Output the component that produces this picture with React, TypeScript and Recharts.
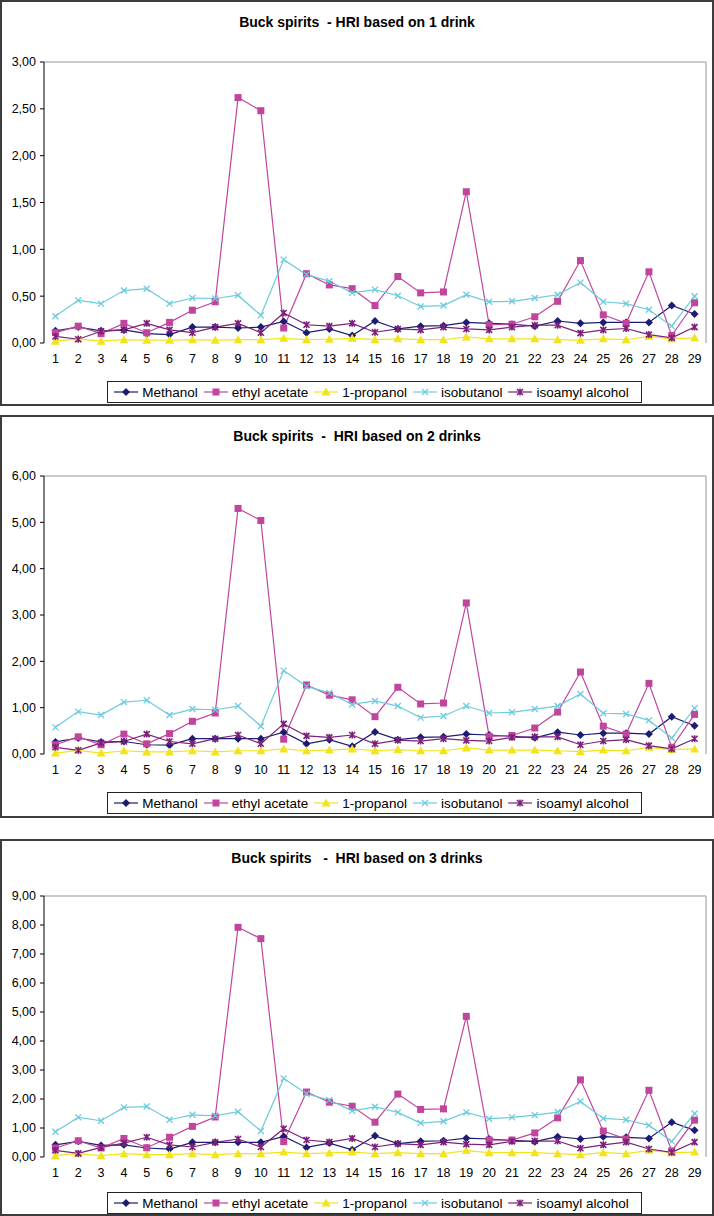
import React from 'react';
import { LineChart, Line, XAxis, YAxis, ReferenceLine } from 'recharts';

const categories = [1, 2, 3, 4, 5, 6, 7, 8, 9, 10, 11, 12, 13, 14, 15, 16, 17, 18, 19, 20, 21, 22, 23, 24, 25, 26, 27, 28, 29];

// 1 drink
const methanol1 = [0.13, 0.17, 0.13, 0.14, 0.10, 0.09, 0.17, 0.17, 0.16, 0.17, 0.23, 0.11, 0.15, 0.08, 0.235, 0.15, 0.18, 0.185, 0.22, 0.21, 0.20, 0.18, 0.235, 0.21, 0.22, 0.22, 0.22, 0.40, 0.31];
const ethylAcetate1 = [0.11, 0.18, 0.10, 0.21, 0.11, 0.22, 0.35, 0.44, 2.62, 2.48, 0.16, 0.74, 0.62, 0.58, 0.40, 0.71, 0.535, 0.545, 1.615, 0.195, 0.20, 0.28, 0.445, 0.88, 0.30, 0.21, 0.76, 0.08, 0.43];
const propanol1 = [0.02, 0.045, 0.02, 0.035, 0.03, 0.03, 0.035, 0.03, 0.035, 0.035, 0.05, 0.035, 0.04, 0.05, 0.035, 0.045, 0.035, 0.035, 0.065, 0.045, 0.045, 0.045, 0.035, 0.03, 0.045, 0.035, 0.07, 0.045, 0.055];
const isobutanol1 = [0.285, 0.455, 0.42, 0.56, 0.58, 0.42, 0.48, 0.475, 0.51, 0.295, 0.89, 0.73, 0.66, 0.535, 0.57, 0.505, 0.39, 0.40, 0.515, 0.44, 0.445, 0.48, 0.515, 0.645, 0.44, 0.42, 0.355, 0.18, 0.50];
const isoamyl1 = [0.07, 0.04, 0.125, 0.14, 0.21, 0.14, 0.11, 0.17, 0.21, 0.11, 0.32, 0.195, 0.18, 0.21, 0.115, 0.15, 0.14, 0.17, 0.15, 0.14, 0.17, 0.19, 0.19, 0.105, 0.14, 0.155, 0.09, 0.055, 0.17];

// 2 drinks
const methanol2 = [0.26, 0.345, 0.26, 0.27, 0.20, 0.19, 0.33, 0.33, 0.33, 0.33, 0.47, 0.22, 0.31, 0.165, 0.475, 0.31, 0.36, 0.37, 0.43, 0.41, 0.38, 0.35, 0.47, 0.41, 0.45, 0.45, 0.43, 0.805, 0.61];
const ethylAcetate2 = [0.20, 0.37, 0.20, 0.43, 0.22, 0.44, 0.705, 0.885, 5.30, 5.04, 0.32, 1.49, 1.27, 1.17, 0.805, 1.44, 1.08, 1.10, 3.26, 0.38, 0.40, 0.56, 0.905, 1.77, 0.60, 0.43, 1.525, 0.145, 0.855];
const propanol2 = [0.02, 0.08, 0.02, 0.07, 0.045, 0.045, 0.07, 0.045, 0.07, 0.07, 0.11, 0.07, 0.085, 0.11, 0.07, 0.095, 0.07, 0.07, 0.13, 0.085, 0.085, 0.085, 0.07, 0.05, 0.085, 0.07, 0.145, 0.095, 0.11];
const isobutanol2 = [0.575, 0.915, 0.84, 1.12, 1.16, 0.84, 0.97, 0.955, 1.035, 0.60, 1.80, 1.46, 1.32, 1.07, 1.145, 1.035, 0.785, 0.82, 1.035, 0.885, 0.90, 0.97, 1.035, 1.295, 0.88, 0.865, 0.725, 0.345, 0.99];
const isoamyl2 = [0.145, 0.08, 0.24, 0.27, 0.43, 0.27, 0.22, 0.33, 0.41, 0.22, 0.65, 0.39, 0.36, 0.41, 0.22, 0.30, 0.28, 0.33, 0.295, 0.28, 0.36, 0.37, 0.37, 0.20, 0.28, 0.31, 0.18, 0.11, 0.33];

// 3 drinks
const methanol3 = [0.42, 0.54, 0.40, 0.42, 0.31, 0.275, 0.505, 0.505, 0.505, 0.505, 0.71, 0.33, 0.48, 0.25, 0.73, 0.46, 0.54, 0.56, 0.65, 0.62, 0.57, 0.53, 0.70, 0.62, 0.70, 0.68, 0.64, 1.20, 0.92];
const ethylAcetate3 = [0.31, 0.56, 0.31, 0.64, 0.32, 0.68, 1.055, 1.38, 7.92, 7.53, 0.53, 2.24, 1.89, 1.75, 1.20, 2.17, 1.64, 1.66, 4.85, 0.585, 0.585, 0.83, 1.35, 2.66, 0.895, 0.62, 2.30, 0.21, 1.27];
const propanol3 = [0.045, 0.115, 0.045, 0.115, 0.08, 0.08, 0.115, 0.08, 0.115, 0.115, 0.17, 0.115, 0.14, 0.17, 0.115, 0.15, 0.115, 0.115, 0.22, 0.15, 0.15, 0.15, 0.115, 0.08, 0.15, 0.115, 0.23, 0.15, 0.17];
const isobutanol3 = [0.87, 1.365, 1.25, 1.71, 1.74, 1.285, 1.455, 1.42, 1.56, 0.895, 2.71, 2.18, 1.96, 1.59, 1.73, 1.54, 1.17, 1.23, 1.54, 1.32, 1.365, 1.445, 1.55, 1.915, 1.33, 1.285, 1.09, 0.54, 1.50];
const isoamyl3 = [0.23, 0.125, 0.33, 0.48, 0.68, 0.42, 0.345, 0.505, 0.62, 0.345, 0.975, 0.585, 0.515, 0.64, 0.345, 0.46, 0.42, 0.515, 0.445, 0.42, 0.54, 0.55, 0.55, 0.30, 0.42, 0.515, 0.275, 0.16, 0.515];

const yTicks1 = [0, 0.5, 1, 1.5, 2, 2.5, 3];
const yTicks2 = [0, 1, 2, 3, 4, 5, 6];
const yTicks3 = [0, 1, 2, 3, 4, 5, 6, 7, 8, 9];

const FONT = '"Liberation Sans", Arial, sans-serif';

type Shape = 'diamond' | 'square' | 'triangle' | 'cross' | 'star';
const SERIES: { key: string; name: string; color: string; shape: Shape }[] = [
  { key: 'methanol', name: 'Methanol', color: '#1c1c72', shape: 'diamond' },
  { key: 'ethyl', name: 'ethyl acetate', color: '#c2459d', shape: 'square' },
  { key: 'propanol', name: '1-propanol', color: '#f2e41c', shape: 'triangle' },
  { key: 'isobutanol', name: 'isobutanol', color: '#6ccbdc', shape: 'cross' },
  { key: 'isoamyl', name: 'isoamyl alcohol', color: '#7c2079', shape: 'star' },
];

function marker(shape: Shape, color: string, cx: number, cy: number, key?: string | number) {
  switch (shape) {
    case 'diamond':
      return <path key={key} d={`M${cx},${cy - 4}L${cx + 4},${cy}L${cx},${cy + 4}L${cx - 4},${cy}Z`} fill={color} />;
    case 'square':
      return <rect key={key} x={cx - 3.5} y={cy - 3.5} width={7} height={7} fill={color} />;
    case 'triangle':
      return <path key={key} d={`M${cx},${cy - 4.5}L${cx + 4.5},${cy + 3.5}L${cx - 4.5},${cy + 3.5}Z`} fill={color} />;
    case 'cross':
      return (
        <path key={key} d={`M${cx - 3},${cy - 3}L${cx + 3},${cy + 3}M${cx - 3},${cy + 3}L${cx + 3},${cy - 3}`} stroke={color} strokeWidth={1.3} fill="none" />
      );
    case 'star':
    default:
      return (
        <path key={key} d={`M${cx - 3},${cy - 3}L${cx + 3},${cy + 3}M${cx - 3},${cy + 3}L${cx + 3},${cy - 3}M${cx},${cy - 3.5}L${cx},${cy + 3.5}`} stroke={color} strokeWidth={1.6} fill="none" />
      );
  }
}

const fmt = (v: number) => v.toFixed(2).replace('.', ',');
const halfTicks = [...categories.map((c) => c - 0.5), categories[categories.length - 1] + 0.5];
const xDomain: [number, number] = [categories[0] - 0.5, categories[categories.length - 1] + 0.5];

type PanelProps = {
  top: number;
  height: number;
  title: string;
  titleY: number;
  plotTop: number;
  below: number;
  legendTop: number;
  yTicks: number[];
  values: number[][];
};

function Legend({ top }: { top: number }) {
  return (
    <div
      style={{
        position: 'absolute',
        top,
        left: 107,
        width: 535,
        height: 22,
        boxSizing: 'border-box',
        border: '1px solid #222',
        background: '#fff',
        display: 'flex',
        alignItems: 'center',
        justifyContent: 'center',
        fontFamily: FONT,
        fontSize: 13.5,
        color: '#000',
      }}
    >
      {SERIES.map((s) => (
        <div key={s.key} style={{ display: 'flex', alignItems: 'center', marginRight: 6 }}>
          <svg width={24} height={10} style={{ marginRight: 4 }}>
            <line x1={0} y1={5} x2={24} y2={5} stroke={s.color} strokeWidth={1.2} />
            {marker(s.shape, s.color, 12, 5)}
          </svg>
          <span>{s.name}</span>
        </div>
      ))}
    </div>
  );
}

function Panel(p: PanelProps) {
  const data = categories.map((c, i) => {
    const row: Record<string, number> = { x: c };
    SERIES.forEach((s, j) => {
      row[s.key] = p.values[j][i];
    });
    return row;
  });
  const yMax = p.yTicks[p.yTicks.length - 1];
  return (
    <div style={{ position: 'absolute', top: p.top, left: 0, width: 714, height: p.height }}>
      <div
        style={{
          position: 'absolute',
          top: 0,
          left: 0,
          width: 714,
          height: p.height,
          boxSizing: 'border-box',
          border: '2px solid #3c3c3c',
        }}
      />
      <div
        style={{
          position: 'absolute',
          top: p.titleY - 9,
          left: 0,
          width: 714,
          textAlign: 'center',
          fontFamily: FONT,
          fontWeight: 'bold',
          fontSize: 14,
          lineHeight: '18px',
          whiteSpace: 'pre',
          color: '#000',
        }}
      >
        {p.title}
      </div>
      <div style={{ position: 'absolute', top: 0, left: 0 }}>
        <LineChart
          width={714}
          height={p.height}
          data={data}
          margin={{ top: p.plotTop, right: 8, left: 0, bottom: p.below - 30 }}
          style={{ fontFamily: FONT }}
        >
          <XAxis
            xAxisId="marks"
            dataKey="x"
            type="number"
            domain={xDomain}
            ticks={halfTicks}
            tick={false}
            tickSize={4}
            tickLine={{ stroke: '#000' }}
            axisLine={{ stroke: '#000' }}
            height={0}
            allowDataOverflow
            interval={0}
          />
          <XAxis
            xAxisId="lbl"
            dataKey="x"
            type="number"
            domain={xDomain}
            ticks={categories}
            tickLine={false}
            axisLine={false}
            tickSize={6}
            tickMargin={5}
            height={30}
            interval={0}
            allowDataOverflow
            tick={{ fontSize: 12.5, fill: '#000', fontFamily: FONT }}
          />
          <YAxis
            type="number"
            domain={[0, yMax]}
            ticks={p.yTicks}
            interval={0}
            width={44}
            tickSize={4}
            tickMargin={4}
            tickFormatter={fmt}
            tickLine={{ stroke: '#000' }}
            axisLine={{ stroke: '#000' }}
            tick={{ fontSize: 12.5, fill: '#000', fontFamily: FONT }}
          />
          <ReferenceLine xAxisId="lbl" y={yMax} stroke="#b8b8b8" strokeWidth={1.5} />
          <ReferenceLine xAxisId="lbl" x={xDomain[1]} stroke="#b8b8b8" strokeWidth={1.5} />
          {SERIES.map((s) => (
            <Line
              key={s.key}
              xAxisId="lbl"
              type="linear"
              dataKey={s.key}
              name={s.name}
              stroke={s.color}
              strokeWidth={1.2}
              isAnimationActive={false}
              dot={(d: any) => marker(s.shape, s.color, d.cx, d.cy, `${s.key}-${d.index}`)}
              activeDot={false}
            />
          ))}
        </LineChart>
      </div>
      <Legend top={p.legendTop} />
    </div>
  );
}

export default function App() {
  return (
    <div style={{ position: 'absolute', top: 0, left: 0, width: 714, height: 1216, background: '#fff' }}>
      <Panel
        top={0}
        height={406}
        title={'Buck spirits  - HRI based on 1 drink'}
        titleY={22}
        plotTop={62}
        below={63}
        legendTop={381}
        yTicks={yTicks1}
        values={[methanol1, ethylAcetate1, propanol1, isobutanol1, isoamyl1]}
      />
      <Panel
        top={415}
        height={403}
        title={'Buck spirits  -  HRI based on 2 drinks'}
        titleY={21}
        plotTop={61}
        below={64}
        legendTop={377}
        yTicks={yTicks2}
        values={[methanol2, ethylAcetate2, propanol2, isobutanol2, isoamyl2]}
      />
      <Panel
        top={839}
        height={377}
        title={'Buck spirits   -  HRI based on 3 drinks'}
        titleY={19}
        plotTop={57}
        below={59}
        legendTop={353}
        yTicks={yTicks3}
        values={[methanol3, ethylAcetate3, propanol3, isobutanol3, isoamyl3]}
      />
    </div>
  );
}
